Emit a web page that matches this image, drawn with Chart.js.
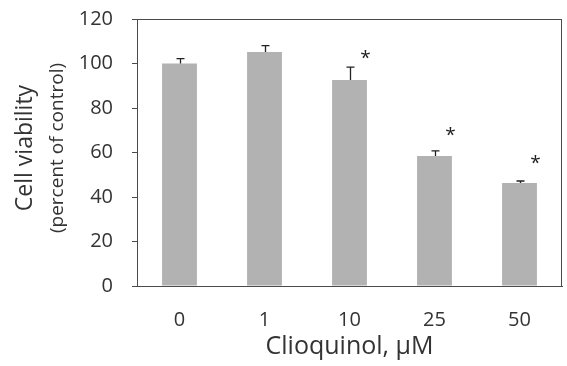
<!DOCTYPE html>
<html>
<head>
<meta charset="utf-8">
<script src="https://cdn.jsdelivr.net/npm/chart.js@4"></script>
<style>
  html, body { margin: 0; padding: 0; background: #fff; }
  #wrap { width: 567px; height: 366px; position: relative; }
</style>
</head>
<body>
<div id="wrap"><canvas id="cv"></canvas></div>
<script>
// clioquinol dose vs cell viability (percent of control)
var DOSES   = ['0', '1', '10', '25', '50'];
var MEANS   = [100, 105.2, 92.6, 58.4, 46.3];
var ERR_TOP = [102.2, 108, 98.4, 60.7, 47.2];    // upper end of the error bar
var STAR_AT = [null, null, 103.5, 69, 56.5];      // where the "*" sits (value units)
var Y_TICKS = [0, 20, 40, 60, 80, 100, 120];

var INK = '#333333', AXIS = '#4a4a4a', FONT = '"Open Sans", "Noto Sans", sans-serif';

var marks = {
  id: 'marks',
  afterDatasetsDraw: function (chart) {
    var ctx = chart.ctx, y = chart.scales.y, a = chart.chartArea;
    var bars = chart.getDatasetMeta(0).data;
    ctx.save();
    // frame round the plot area
    ctx.strokeStyle = AXIS; ctx.lineWidth = 1;
    ctx.strokeRect(a.left + 0.5, a.top + 0.5, a.right - a.left - 1, a.bottom - a.top);
    // error bars, upward only
    ctx.strokeStyle = '#222'; ctx.lineWidth = 1.3;
    bars.forEach(function (b, i) {
      var yT = y.getPixelForValue(MEANS[i]), yE = y.getPixelForValue(ERR_TOP[i]);
      var x = Math.round(b.x) + 0.5;
      ctx.beginPath();
      ctx.moveTo(x, yT); ctx.lineTo(x, yE);
      ctx.moveTo(x - 4, yE); ctx.lineTo(x + 4, yE);
      ctx.stroke();
    });
    // significance stars
    ctx.fillStyle = '#222'; ctx.font = '19px ' + FONT;
    ctx.textAlign = 'center'; ctx.textBaseline = 'middle';
    bars.forEach(function (b, i) {
      if (STAR_AT[i] == null) return;
      ctx.fillText('*', b.x + 16, y.getPixelForValue(STAR_AT[i]) + 3);
    });
    ctx.restore();
  },
  afterDraw: function (chart) {   // two-line y title, second line smaller
    var ctx = chart.ctx;
    ctx.save();
    ctx.fillStyle = INK; ctx.textAlign = 'center'; ctx.textBaseline = 'middle';
    ctx.translate(25, 148); ctx.rotate(-Math.PI / 2);
    ctx.font = '23px ' + FONT; ctx.fillText('Cell viability', 0, 0);
    ctx.font = '19px ' + FONT; ctx.fillText('(percent of control)', 0, 33);
    ctx.restore();
  }
};

new Chart(document.getElementById('cv').getContext('2d'), {
  type: 'bar',
  data: {
    labels: DOSES,
    datasets: [{ data: MEANS, backgroundColor: '#b2b2b2', borderWidth: 0,
                 barPercentage: 0.41, categoryPercentage: 1 }]
  },
  options: {
    responsive: true, maintainAspectRatio: false, animation: false,
    layout: { padding: { top: 19, right: 5, left: 0, bottom: 0 } },
    plugins: { legend: { display: false }, tooltip: { enabled: false } },
    scales: {
      x: {
        grid: { display: false, drawTicks: false }, border: { display: true, color: AXIS },
        ticks: { color: INK, font: { family: FONT, size: 20 }, padding: 22, maxRotation: 0 },
        title: { display: true, text: 'Clioquinol, μM', color: INK,
                 font: { family: FONT, size: 25 }, padding: { top: 0, bottom: 4 } },
        afterFit: function (s) { s.height = 80; }
      },
      y: {
        min: 0, max: 120,
        afterBuildTicks: function (s) { s.ticks = Y_TICKS.map(function (v) { return { value: v }; }); },
        grid: { drawOnChartArea: false, drawTicks: true, tickLength: 5, color: AXIS },
        border: { display: true, color: AXIS },
        ticks: { color: INK, font: { family: FONT, size: 20 }, padding: 19 },
        afterFit: function (s) { s.width = 137; s.paddingTop = 0; s.paddingBottom = 0; }
      }
    }
  },
  plugins: [marks]
});
</script>
</body>
</html>
